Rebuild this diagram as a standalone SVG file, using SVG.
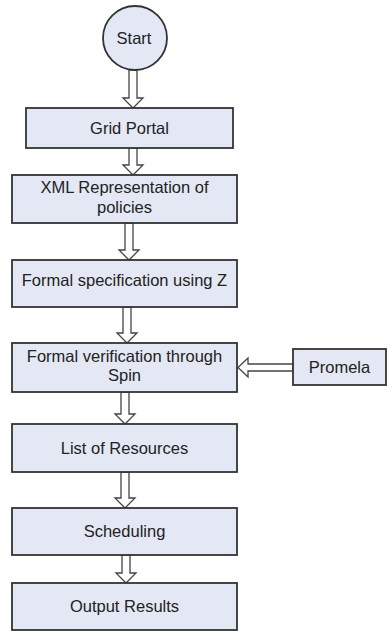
<svg xmlns="http://www.w3.org/2000/svg" width="388" height="631" viewBox="0 0 388 631">
<style>
.box{fill:#e3e8f4;stroke:#333;stroke-width:1.8}
.arr{fill:#fff;stroke:#444;stroke-width:1.3;stroke-linejoin:miter}
text{font-family:"Liberation Sans",Arial,sans-serif;font-size:16.5px;fill:#222;text-anchor:middle}
</style>
<rect width="388" height="631" fill="#fff"/>
<g id="connectors">
<polygon class="arr" points="129,70 137,70 137,98 143,98 133,108 123,98 129,98"/>
<polygon class="arr" points="129,148 137,148 137,165 143,165 133,175 123,165 129,165"/>
<polygon class="arr" points="125,223 133,223 133,250 139,250 129,260 119,250 125,250"/>
<polygon class="arr" points="123,307 131,307 131,333 137,333 127,343 117,333 123,333"/>
<polygon class="arr" points="121,392 129,392 129,414 135,414 125,424 115,414 121,414"/>
<polygon class="arr" points="121,472 129,472 129,498 135,498 125,508 115,498 121,498"/>
<polygon class="arr" points="122,555 130,555 130,573 136,573 126,583 116,573 122,573"/>
<polygon class="arr" points="293,364 248,364 248,358 238,367.5 248,377 248,371 293,371"/>
</g>
<g id="start">
<circle class="box" cx="135" cy="38" r="32"/>
<text x="134" y="44">Start</text>
</g>
<g id="grid-portal">
<rect class="box" x="26" y="108" width="207" height="40"/>
<text x="129.5" y="134">Grid Portal</text>
</g>
<g id="xml">
<rect class="box" x="12" y="175" width="225" height="48"/>
<text x="124.5" y="193">XML Representation of</text>
<text x="124.5" y="213">policies</text>
</g>
<g id="formal-spec">
<rect class="box" x="12" y="260" width="225" height="47"/>
<text x="124.5" y="286">Formal specification using Z</text>
</g>
<g id="formal-verif">
<rect class="box" x="12" y="343" width="225" height="49"/>
<text x="124.5" y="362">Formal verification through</text>
<text x="124.5" y="381">Spin</text>
</g>
<g id="promela">
<rect class="box" x="293" y="349" width="93" height="36"/>
<text x="339.5" y="373">Promela</text>
</g>
<g id="resources">
<rect class="box" x="12" y="424" width="225" height="48"/>
<text x="124.5" y="454">List of Resources</text>
</g>
<g id="scheduling">
<rect class="box" x="12" y="508" width="225" height="47"/>
<text x="124.5" y="537">Scheduling</text>
</g>
<g id="output">
<rect class="box" x="12" y="583" width="225" height="47"/>
<text x="124.5" y="612">Output Results</text>
</g>
</svg>
